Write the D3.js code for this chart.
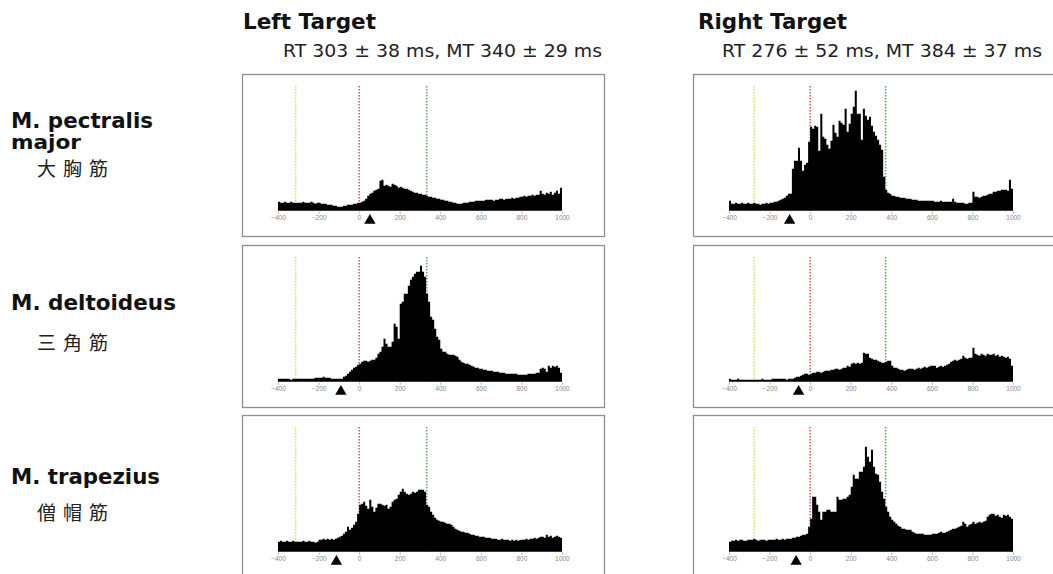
<!DOCTYPE html>
<html>
<head>
<meta charset="utf-8">
<script src="https://cdn.jsdelivr.net/npm/d3@7"></script>
<style>
  body { margin: 0; background: #fff; }
  svg { display: block; font-family: "DejaVu Sans", "Liberation Sans", Arial, sans-serif; }
</style>
</head>
<body>
<div id="chart"></div>
<script>
// EMG histograms, 10 ms bins from -400 to 1000 ms (bar heights, arbitrary units)
var binStart = -400, binWidth = 10;
var ticks = [-400, -200, 0, 200, 400, 600, 800, 1000];

var columns = ["Left Target", "Right Target"];
var subtitles = ["RT 303 \u00b1 38 ms, MT 340 \u00b1 29 ms", "RT 276 \u00b1 52 ms, MT 384 \u00b1 37 ms"];
var muscles = [["M. pectralis", "major"], ["M. deltoideus"], ["M. trapezius"]];
var musclesJa = ["大胸筋", "三角筋", "僧帽筋"];

// marker lines (ms): start cue, movement onset, movement end
var cueLines = [[-313, 0, 333], [-276, 0, 372]];
// triangle marker per panel [row][col]
var triangles = [[53, -101], [-90, -57], [-112, -69]];

var pectLeft = [
  9,8,8,9,8,8,9,8,8,8, 8,8,9,8,8,8,9,8,7,8, 8,7,7,7,6,6,6,5,5,4, 4,4,5,5,6,6,6,7,7,8,
  8,9,10,12,15,17,18,20,21,22, 30,31,25,26,25,24,27,26,25,23, 24,23,22,22,21,20,19,18,18,17,
  17,16,16,15,14,14,13,13,12,12, 11,11,10,10,9,9,8,8,7,7, 7,8,8,8,9,9,9,10,10,10,
  10,10,11,11,11,11,10,11,11,12, 12,11,12,12,12,13,12,13,13,14, 14,15,14,15,15,16,15,16,16,20,
  17,16,18,17,19,16,18,20,17,23];
var pectRight = [
  10,7,7,8,7,7,8,7,7,8, 7,7,8,7,7,6,7,7,8,7, 8,8,9,9,10,11,12,13,15,17, 17,42,50,50,63,50,40,46,48,69,
  84,82,85,84,60,97,74,72,66,62, 70,86,78,74,90,88,86,102,79,87, 97,104,120,97,97,71,102,95,91,94,
  85,79,75,71,66,61,34,21,18,17, 15,15,14,14,13,13,13,12,12,12, 11,11,11,10,10,10,10,10,10,10,
  10,9,9,9,10,9,9,9,9,9, 12,9,8,8,8,8,7,7,8,8, 19,14,14,13,14,15,15,16,17,17,
  19,19,20,20,21,21,21,20,31,22];
var deltLeft = [
  3,3,3,3,3,3,2,3,3,3, 3,3,3,3,3,3,3,3,4,4, 4,4,5,4,4,4,3,3,3,3, 3,3,5,6,8,10,12,14,15,17,
  18,20,21,21,20,21,22,22,24,28, 30,35,43,38,35,35,40,58,55,43, 78,80,88,88,96,102,105,108,110,110,
  116,110,105,88,80,65,62,53,45,42, 33,30,30,28,27,27,27,26,25,22, 20,19,18,18,17,16,15,14,14,13,
  13,12,12,11,11,11,10,10,10,9, 9,9,8,8,8,8,8,8,7,7, 7,7,7,8,8,8,8,9,9,13,
  14,13,10,16,14,16,15,16,14,9];
var deltRight = [
  3,2,2,2,3,2,2,2,2,2, 2,2,2,2,2,2,3,2,2,2, 2,3,3,3,3,3,3,3,2,3, 3,3,4,5,5,6,7,8,8,7,
  8,9,9,10,10,9,10,11,11,11, 12,12,13,13,12,13,14,14,16,15, 18,19,18,19,18,19,29,28,28,24,
  23,22,22,21,20,19,19,20,21,21, 16,14,14,13,12,12,11,12,13,13, 13,12,13,14,13,14,15,14,15,16,
  16,16,14,15,16,15,16,17,18,20, 21,22,21,22,23,26,24,23,24,24, 34,28,27,26,28,27,26,28,27,27,
  28,26,27,25,26,25,24,25,23,16];
var trapLeft = [
  10,11,10,10,11,10,10,11,10,10, 10,10,11,10,10,11,10,10,9,10, 12,12,13,12,13,12,13,12,13,14,
  15,16,18,20,25,22,24,27,30,38, 47,48,50,46,43,52,45,40,44,48, 48,47,46,47,43,45,50,52,53,57,
  60,63,60,58,57,58,60,59,60,62, 62,62,60,47,45,40,37,34,32,31, 30,30,29,28,28,27,25,23,22,21,
  20,20,19,19,18,17,17,16,16,15, 15,15,14,14,14,13,13,13,12,12, 13,12,12,12,11,12,11,12,11,12,
  12,12,13,12,13,13,14,13,14,15, 15,14,17,15,16,14,15,16,15,14];
var trapRight = [
  10,11,11,12,11,12,12,11,11,12, 12,12,13,12,11,12,12,12,11,12, 12,12,12,13,12,12,13,12,13,13,
  13,14,14,15,15,16,17,17,18,25, 33,55,55,47,40,32,40,40,42,42, 40,40,40,55,52,52,53,53,55,57,
  65,77,73,73,80,80,85,105,95,90, 102,85,78,77,70,60,53,45,40,35, 32,30,28,26,25,23,23,22,22,22,
  20,19,18,18,18,18,17,17,17,17, 18,18,18,19,20,19,19,20,21,22, 23,23,24,25,26,30,28,25,27,28,
  30,28,29,30,29,30,31,35,37,38, 38,36,37,35,34,37,36,37,35,33];

var series = [[pectLeft, pectRight], [deltLeft, deltRight], [trapLeft, trapRight]];

var width = 1053, height = 574;
var colX = [242, 693], rowY = [74, 245, 415];
var panelW = 362, panelH = 162;
var lineColors = ["#e9dc5c", "#cf6553", "#62aa5e"];

var svg = d3.select("#chart").append("svg")
  .attr("width", width)
  .attr("height", height);

// column headers
columns.forEach(function(c, i) {
  svg.append("text")
    .attr("x", [243, 698][i]).attr("y", 29)
    .attr("font-size", 21).attr("font-weight", "bold").attr("fill", "#111")
    .attr("textLength", [133, 149][i]).attr("lengthAdjust", "spacingAndGlyphs")
    .text(c);
  svg.append("text")
    .attr("x", [283, 722][i]).attr("y", 57)
    .attr("font-size", 18).attr("fill", "#222")
    .attr("textLength", [319, 320][i]).attr("lengthAdjust", "spacingAndGlyphs")
    .text(subtitles[i]);
});

// row labels
var labelBase = [[128, 149, 176], [310, 350], [484, 520]];
var labelLen = [[142, 70], [165], [149]];
muscles.forEach(function(lines, r) {
  lines.forEach(function(l, k) {
    svg.append("text")
      .attr("x", 11).attr("y", labelBase[r][k])
      .attr("font-size", k > 0 ? 20 : 21).attr("font-weight", "bold").attr("fill", "#111")
      .attr("textLength", labelLen[r][k]).attr("lengthAdjust", "spacingAndGlyphs")
      .text(l);
  });
  svg.append("text")
    .attr("x", 37).attr("y", labelBase[r][lines.length])
    .attr("font-family", "'Noto Sans CJK JP', 'Noto Sans CJK SC', sans-serif")
    .attr("font-size", 19).attr("fill", "#222")
    .attr("textLength", 71).attr("lengthAdjust", "spacing")
    .text(musclesJa[r]);
});

function drawPanel(data, r, c) {
  var g = svg.append("g")
    .attr("transform", "translate(" + colX[c] + "," + rowY[r] + ")");

  g.append("rect")
    .attr("x", 0.5).attr("y", 0.5)
    .attr("width", panelW).attr("height", panelH)
    .attr("fill", "#fff").attr("stroke", "#8f8f8f").attr("stroke-width", 1.3);

  var baseline = 136.7;
  var x = d3.scaleLinear().domain([-400, 1000]).range([36, 320]);
  var y = d3.scaleLinear().domain([0, 125]).range([baseline, baseline - 125]);

  // marker lines
  g.selectAll(".cue").data(cueLines[c]).enter().append("line")
    .attr("x1", function(d) { return x(d); })
    .attr("x2", function(d) { return x(d); })
    .attr("y1", 12).attr("y2", baseline)
    .attr("stroke", function(d, i) { return lineColors[i]; })
    .attr("stroke-width", 1.6)
    .attr("stroke-dasharray", "1.4,1.6");

  // histogram as one stepped area so bins don't show seams
  var pts = data.map(function(d, i) { return [binStart + i * binWidth, d]; });
  pts.push([binStart + data.length * binWidth, data[data.length - 1]]);
  var area = d3.area()
    .x(function(d) { return x(d[0]); })
    .y0(baseline)
    .y1(function(d) { return y(d[1]); })
    .curve(d3.curveStepAfter);
  g.append("path").datum(pts).attr("d", area).attr("fill", "#000");

  var axis = g.append("g")
    .attr("transform", "translate(0," + (baseline + 1) + ")")
    .call(d3.axisBottom(x).tickValues(ticks).tickFormat(d3.format("d")).tickSize(2).tickPadding(1.5));
  axis.select(".domain").remove();
  axis.selectAll("line").attr("stroke", "#aaa");
  axis.selectAll("text").attr("font-size", 6.5).attr("fill", "#888")
    .attr("font-family", "'Liberation Sans', Arial, sans-serif");

  g.append("path")
    .attr("d", d3.symbol().type(d3.symbolTriangle).size(56)())
    .attr("transform", "translate(" + x(triangles[r][c]) + "," + 146.5 + ")")
    .attr("fill", "#000");
}

series.forEach(function(row, r) {
  row.forEach(function(data, c) { drawPanel(data, r, c); });
});
</script>
</body>
</html>
